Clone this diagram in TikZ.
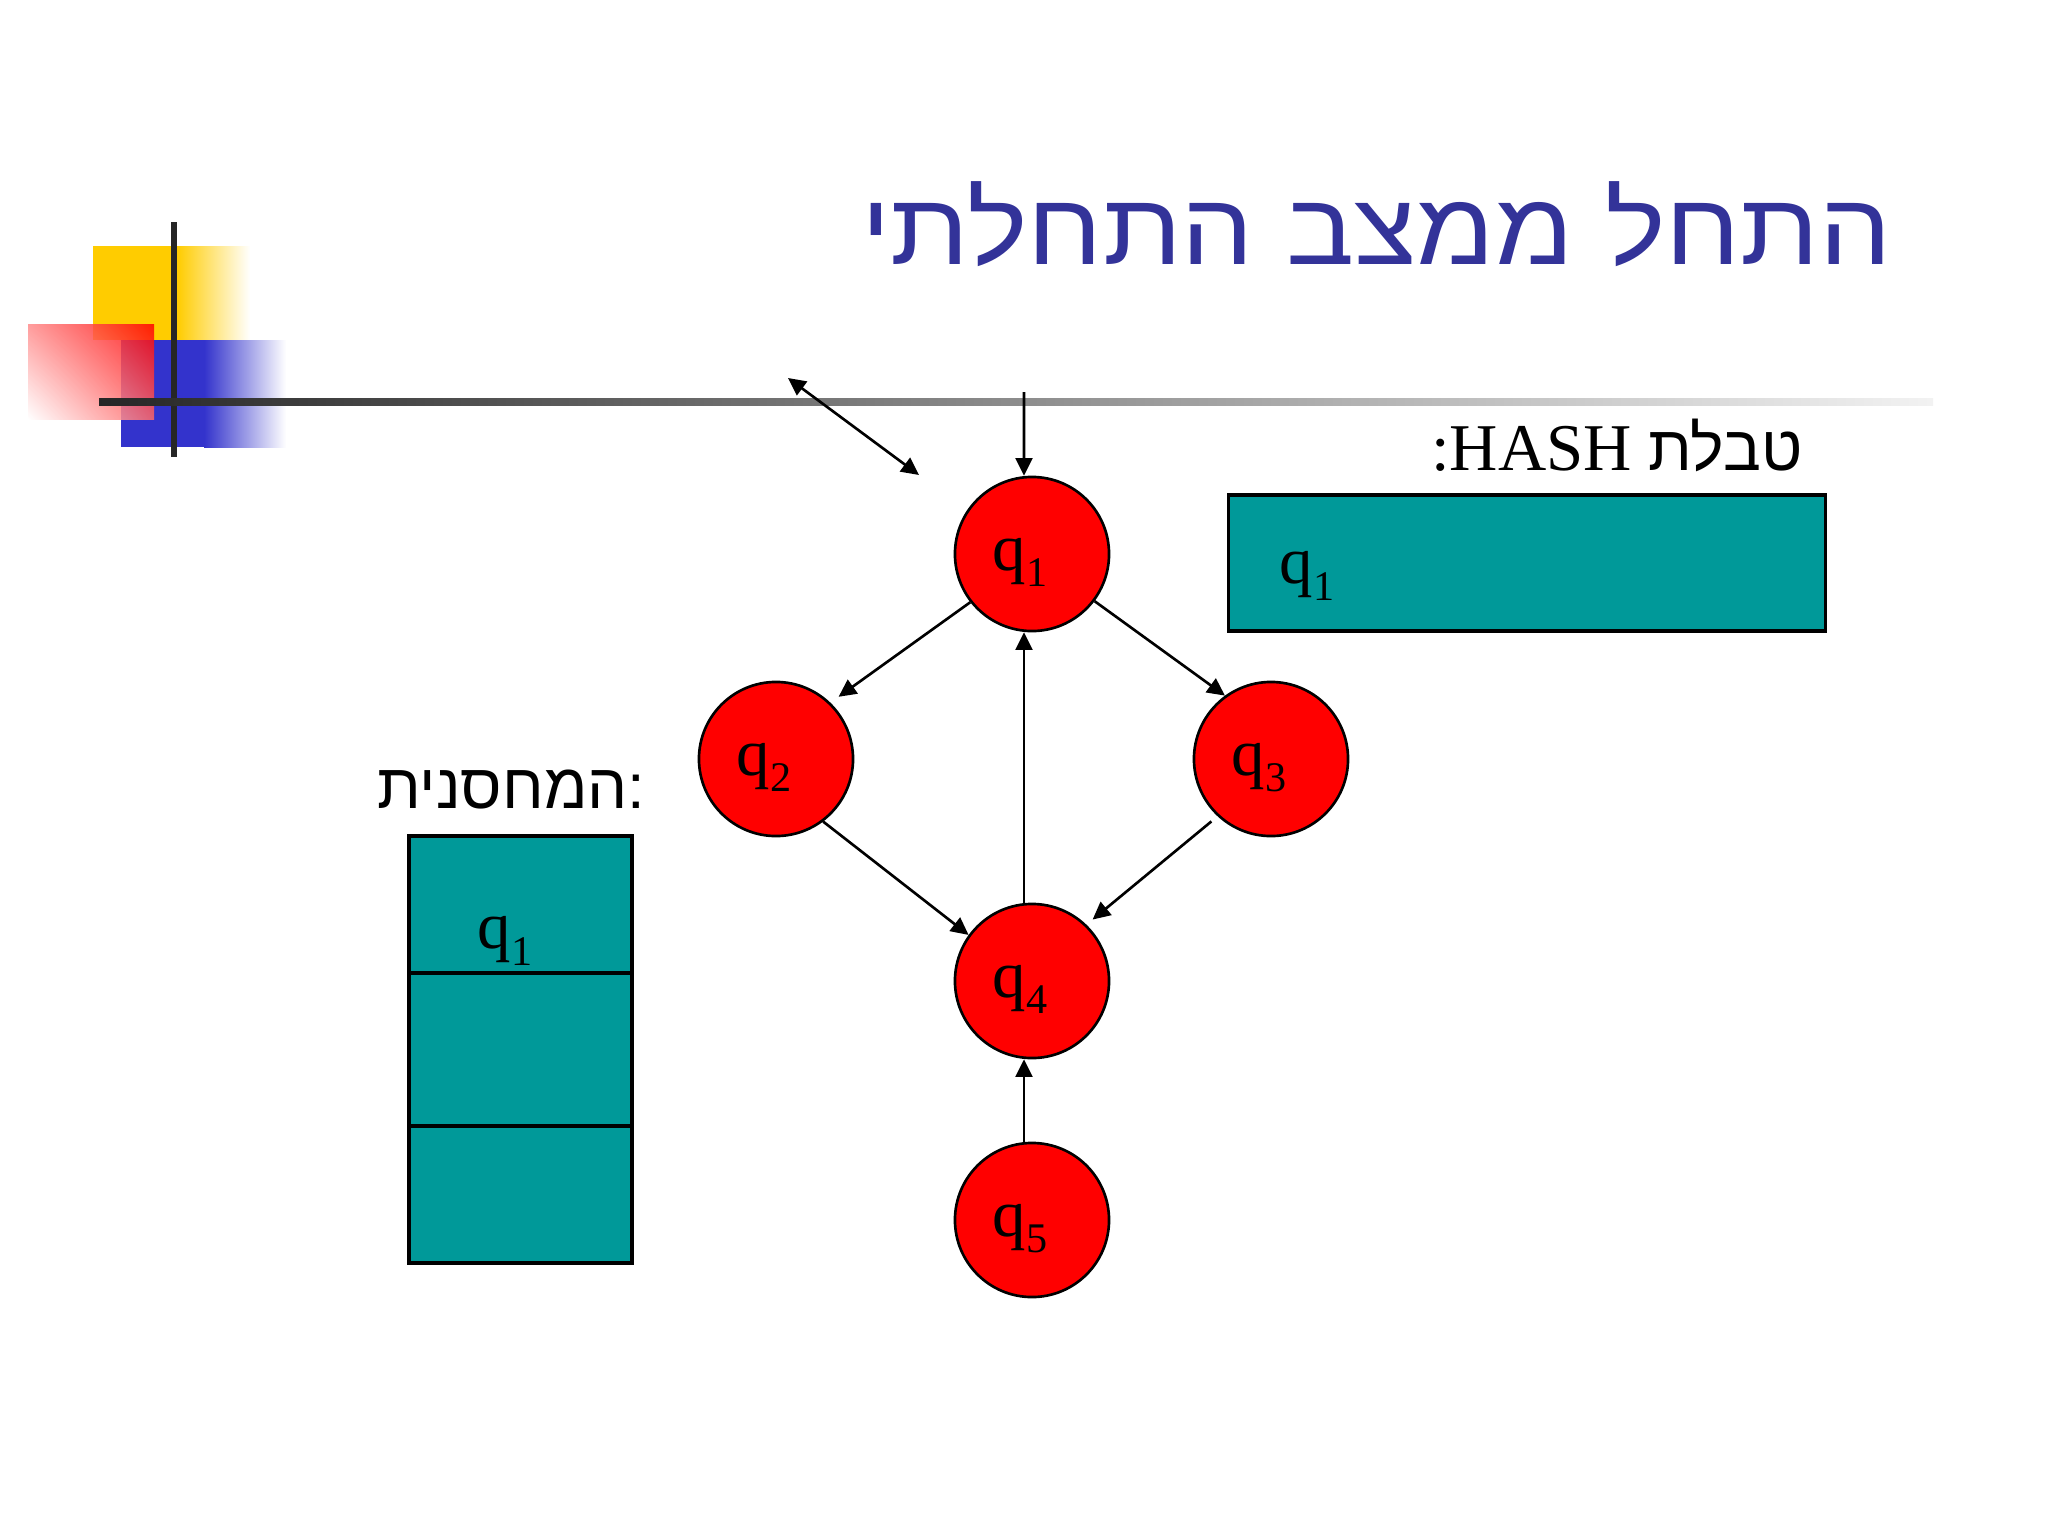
\documentclass[tikz,border=0pt]{standalone}
\usepackage{fontspec}
\setmainfont{Liberation Serif}
\newfontfamily\hebfont[Script=Hebrew]{Liberation Sans}
\newfontfamily\titlefont[Script=Hebrew,FakeStretch=1.12]{Liberation Sans}
\TeXXeTstate=1
\usetikzlibrary{arrows.meta,shadings}
\definecolor{slideblue}{RGB}{51,51,153}
\definecolor{cellteal}{RGB}{0,153,153}
\definecolor{decoyellow}{RGB}{255,204,0}
\definecolor{decoblue}{RGB}{51,51,204}
\newcommand{\qstate}[1]{q\raisebox{-4.6pt}{\fontsize{12}{12}\selectfont #1}}
\tikzset{
    line cap=round,line join=round,
    state/.style={circle,draw=black,fill=red,line width=0.75pt,
        minimum size=1.54cm,inner sep=0pt,font=\fontsize{19}{22}\selectfont,
        text height=14pt,text depth=4.6pt,execute at begin node={\hspace*{-6.8pt}}},
    trans/.style={-{Triangle[length=5pt,width=4.8pt]},line width=0.75pt},
    twoway/.style={{Triangle[length=5pt,width=4.8pt]}-{Triangle[length=5pt,width=4.8pt]},line width=0.75pt},
    cell/.style={rectangle,draw=black,fill=cellteal,line width=0.9pt,inner sep=0pt},
    cellentry/.style={inner sep=0pt,font=\fontsize{19}{22}\selectfont},
    caption/.style={inner sep=0pt,font=\fontsize{19}{22}\selectfont},
}

\begin{document}
\begin{tikzpicture}[x=0.01cm,y=-0.01cm]
    \useasboundingbox[fill=white] (0,0) rectangle (2048,1536);

    % slide decoration
    \fill[decoyellow] (93,246) rectangle (178,340);
    \shade[left color=decoyellow,right color=white] (177,246) rectangle (250,340);
    \fill[decoblue] (121,340) rectangle (205,447);
    \shade[left color=decoblue,right color=white] (204,340) rectangle (286,447);
    \shade[upper right=red,upper left=red!45,lower left=white,lower right=red!60,opacity=0.85]
        (28,324) rectangle (154,419);
    \fill[black!85] (171,222) rectangle (177,457);
    \shade[left color=black!85,right color=black!5] (99,398) rectangle (1933,405);

    \node[anchor=base east,inner sep=0pt,text=slideblue,font=\titlefont\fontsize{29}{34}\selectfont]
        (title) at (1893,264) {\beginR התחל ממצב התחלתי\endR};

    % states
    \node[state] (q1) at (1032,554) {\qstate{1}};
    \node[state] (q2) at (776,759) {\qstate{2}};
    \node[state] (q3) at (1271,759) {\qstate{3}};
    \node[state] (q4) at (1032,981) {\qstate{4}};
    \node[state] (q5) at (1032,1220) {\qstate{5}};

    \coordinate (start) at (1024,392);
    \coordinate (dblA) at (788,378);
    \coordinate (dblB) at (919,475);

    \draw[trans] (start) -- ([xshift=-0.08cm]q1.north);
    \draw[twoway] (dblA) -- (dblB);
    \draw[trans,shorten >=0.1cm] (q1.218) -- (q2.46);
    \draw[trans] (q1.323) -- (q3.126);
    \draw[trans] (q2.307) -- (q4.144);
    \draw[trans,shorten <=0.08cm,shorten >=0.08cm] (q3.227) -- (q4.46);
    \draw[trans] ([xshift=-0.08cm]q4.north) -- ([xshift=-0.08cm]q1.south);
    \draw[trans] ([xshift=-0.08cm]q5.north) -- ([xshift=-0.08cm]q4.south);

    % hash table
    \node[caption,anchor=base east] (hashlabel) at (1803,470)
        {\beginR{\hebfont\fontsize{18}{22}\selectfont טבלת} \beginL HASH\endL:\endR};
    \node[cell,minimum width=5.97cm,minimum height=1.36cm] (hash) at (1527,563) {};
    \node[cellentry] (hashq1) at (1307,576) {\qstate{1}};

    % stack
    \node[caption,anchor=base east,font=\hebfont\fontsize{18}{22}\selectfont] (stacklabel) at (646,808)
        {\beginR :המחסנית\endR};
    \node[cell,minimum width=2.23cm,minimum height=1.37cm] (cellA) at (520.5,904.5) {};
    \node[cell,minimum width=2.23cm,minimum height=1.53cm] (cellB) at (520.5,1049.5) {};
    \node[cell,minimum width=2.23cm,minimum height=1.37cm] (cellC) at (520.5,1194.5) {};
    \node[cellentry] (stackq1) at (505,941) {\qstate{1}};
\end{tikzpicture}
\end{document}
